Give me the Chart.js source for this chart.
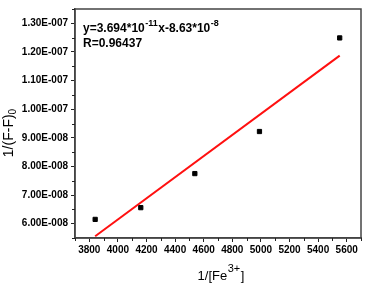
<!DOCTYPE html>
<html>
<head>
<meta charset="utf-8">
<script src="https://cdn.jsdelivr.net/npm/chart.js@4.4.0/dist/chart.umd.min.js"></script>
<style>
html,body{margin:0;padding:0;background:#fff;}
#wrap{width:366px;height:286px;position:relative;}
</style>
</head>
<body>
<div id="wrap"><canvas id="c" width="366" height="286"></canvas></div>
<script>
// ---- data ----
const xValues = [3841, 4160, 4538, 4990, 5551];
const yValues = [6.15e-8, 6.56e-8, 7.75e-8, 9.22e-8, 1.249e-7];
const fitX = [3841, 5551];
const fitY = [5.56e-8, 1.187e-7];
const xTicks = [3800, 4000, 4200, 4400, 4600, 4800, 5000, 5200, 5400, 5600];
const yTicks = [6e-8, 7e-8, 8e-8, 9e-8, 1e-7, 1.1e-7, 1.2e-7, 1.3e-7];
const yTickLabels = ["6.00E-008","7.00E-008","8.00E-008","9.00E-008","1.00E-007","1.10E-007","1.20E-007","1.30E-007"];
const xMinor = [3700,3900,4100,4300,4500,4700,4900,5100,5300,5500,5700];
const yMinor = [5.5e-8,6.5e-8,7.5e-8,8.5e-8,9.5e-8,1.05e-7,1.15e-7,1.25e-7,1.35e-7];
const eqMain = ["y=3.694*10", "x-8.63*10"];
const eqSup = ["-11", "-8"];
const rText = "R=0.96437";

const FONT = "'Liberation Sans', Arial, sans-serif";
const frameColor = '#444444';

const decor = {
  id: 'decor',
  afterDraw(chart) {
    const ctx = chart.ctx;
    const a = chart.chartArea;
    const xs = chart.scales.x, ys = chart.scales.y;
    ctx.save();
    // frame
    ctx.strokeStyle = frameColor;
    ctx.lineWidth = 1.5;
    ctx.strokeRect(a.left, a.top, a.right - a.left, a.bottom - a.top);
    // minor ticks
    ctx.lineWidth = 1;
    ctx.strokeStyle = '#222';
    ctx.beginPath();
    xMinor.forEach(v => {
      const px = Math.round(xs.getPixelForValue(v)) + 0.5;
      if (px < a.left - 1 || px > a.right + 1) return;
      ctx.moveTo(px, a.bottom); ctx.lineTo(px, a.bottom + 3);
    });
    yMinor.forEach(v => {
      const py = Math.round(ys.getPixelForValue(v)) + 0.5;
      if (py < a.top - 1 || py > a.bottom + 1) return;
      ctx.moveTo(a.left, py); ctx.lineTo(a.left - 3, py);
    });
    ctx.stroke();

    ctx.fillStyle = '#000';
    ctx.textBaseline = 'alphabetic';
    ctx.textAlign = 'left';
    // equation
    let x = a.left + 8;
    const b1 = a.top + 23;
    ctx.font = "bold 12px " + FONT;
    ctx.fillText(eqMain[0], x, b1); x += ctx.measureText(eqMain[0]).width + 0.5;
    ctx.font = "bold 9px " + FONT;
    ctx.fillText(eqSup[0], x, b1 - 6); x += ctx.measureText(eqSup[0]).width + 0.5;
    ctx.font = "bold 12px " + FONT;
    ctx.fillText(eqMain[1], x, b1); x += ctx.measureText(eqMain[1]).width + 0.5;
    ctx.font = "bold 9px " + FONT;
    ctx.fillText(eqSup[1], x, b1 - 6);
    ctx.font = "bold 12px " + FONT;
    ctx.fillText(rText, a.left + 8, b1 + 15);

    // x title: 1/[Fe^3+]
    const cx = (a.left + a.right) / 2 + 3;
    const bx = 280;
    const p1 = "1/[Fe", p3 = "]";
    ctx.font = "13px " + FONT; const w1 = ctx.measureText(p1).width;
    ctx.font = "11px " + FONT; const w2 = ctx.measureText("3+").width;
    ctx.font = "13px " + FONT; const w3 = ctx.measureText(p3).width;
    let sx = cx - (w1 + w2 + w3 + 1) / 2;
    ctx.font = "13px " + FONT; ctx.fillText(p1, sx, bx); sx += w1 + 0.5;
    ctx.font = "11px " + FONT; ctx.fillText("3+", sx, bx - 8); sx += w2 + 0.5;
    ctx.font = "13px " + FONT; ctx.fillText(p3, sx, bx);

    // y title: 1/(F-F)_0 rotated
    ctx.save();
    ctx.translate(13, 133);
    ctx.rotate(-Math.PI / 2);
    const q1 = "1/(F-F)", q2 = "0";
    ctx.font = "14px " + FONT; const v1 = ctx.measureText(q1).width;
    ctx.font = "10px " + FONT; const v2 = ctx.measureText(q2).width;
    let sy = -(v1 + v2) / 2;
    ctx.font = "14px " + FONT; ctx.fillText(q1, sy, 0); sy += v1;
    ctx.font = "10px " + FONT; ctx.fillText(q2, sy, 3);
    ctx.restore();
    ctx.restore();
  }
};

new Chart(document.getElementById('c'), {
  type: 'scatter',
  data: {
    datasets: [
      {
        data: fitX.map((v, i) => ({x: v, y: fitY[i]})),
        showLine: true,
        borderColor: '#ff1010',
        borderWidth: 2,
        pointRadius: 0,
        order: 2
      },
      {
        data: xValues.map((v, i) => ({x: v, y: yValues[i]})),
        pointStyle: 'rect',
        pointRadius: 3,
        backgroundColor: '#000',
        borderColor: '#000',
        borderWidth: 1,
        order: 1
      }
    ]
  },
  plugins: [decor],
  options: {
    responsive: false,
    animation: false,
    devicePixelRatio: 1,
    layout: { padding: { top: 4, right: 4, left: 0, bottom: 0 } },
    plugins: { legend: { display: false }, tooltip: { enabled: false } },
    scales: {
      x: {
        type: 'linear',
        min: 3700, max: 5700,
        afterBuildTicks(s) { s.ticks = xTicks.map(v => ({value: v})); },
        afterFit(s) { s.height = 48; },
        grid: { drawOnChartArea: false, drawTicks: true, tickLength: 4, color: '#222', tickWidth: 1 },
        border: { display: true, color: frameColor, width: 1.5 },
        ticks: {
          color: '#000',
          font: { family: FONT, size: 10, weight: 'bold' },
          padding: 2,
          maxRotation: 0,
          autoSkip: false,
          callback: v => String(v)
        }
      },
      y: {
        type: 'linear',
        min: 5.5e-8, max: 1.35e-7,
        afterBuildTicks(s) { s.ticks = yTicks.map(v => ({value: v})); },
        afterFit(s) { s.width = 75; },
        grid: { drawOnChartArea: false, drawTicks: true, tickLength: 4, color: '#222', tickWidth: 1 },
        border: { display: true, color: frameColor, width: 1.5 },
        ticks: {
          color: '#000',
          font: { family: FONT, size: 10, weight: 'bold' },
          padding: 3,
          autoSkip: false,
          callback: (v) => {
            const i = yTicks.findIndex(t => Math.abs(t - v) < 1e-12);
            return i >= 0 ? yTickLabels[i] : '';
          }
        }
      }
    }
  }
});
</script>
</body>
</html>
